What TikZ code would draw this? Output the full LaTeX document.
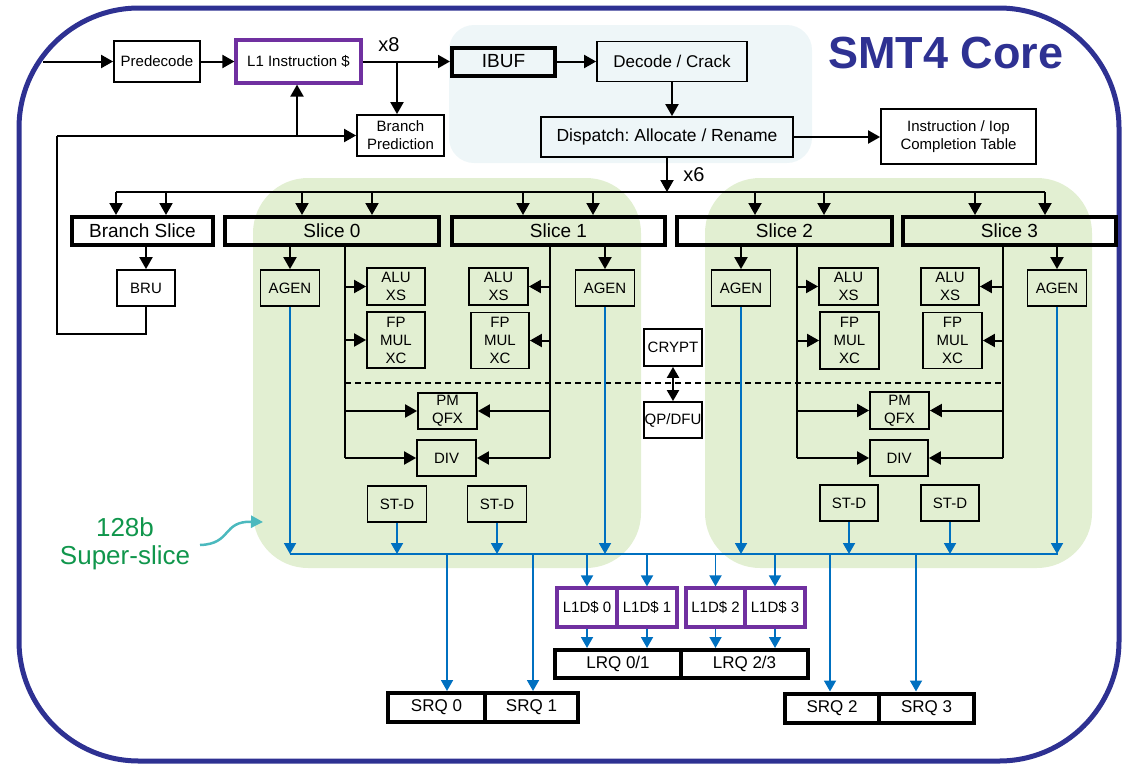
\documentclass[tikz,border=0pt]{standalone}
\usepackage{fontspec}
\setmainfont{Liberation Sans}
\usetikzlibrary{arrows.meta}
\definecolor{navy}{RGB}{46,49,146}
\definecolor{purp}{RGB}{112,48,160}
\definecolor{busblue}{RGB}{0,112,192}
\definecolor{sliceg}{RGB}{226,239,210}
\definecolor{frontb}{RGB}{238,246,248}
\definecolor{labelg}{RGB}{16,150,76}
\definecolor{curlteal}{RGB}{75,185,190}
\tikzset{
  unit/.style={draw, line width=1.8pt, inner sep=0pt, align=center,
    font=\fontsize{15}{18}\selectfont},
  heavy/.style={draw, line width=4pt, inner sep=0pt,
    font=\fontsize{19}{22}\selectfont},
  cache/.style={draw=purp, line width=3.2pt, inner sep=0pt,
    font=\fontsize{15}{18}\selectfont},
  tip/.style={-{Triangle[length=12pt,width=13pt]}},
  btip/.style={-{Triangle[length=11pt,width=12pt]}},
  flow/.style={line width=2pt, tip},
  wire/.style={line width=2pt},
  bflow/.style={busblue, line width=1.8pt, btip},
  bwire/.style={busblue, line width=1.8pt},
  mult/.style={font=\fontsize{20}{20}\selectfont, inner sep=0pt},
}
\begin{document}
\frenchspacing
\begin{tikzpicture}[x=1pt,y=-1pt]
\useasboundingbox (0,0) rectangle (1122,764);

% shaded regions: front end and the two super-slices
\fill[frontb, rounded corners=25pt] (449,25) rectangle (812,163);
\fill[sliceg, rounded corners=55pt] (253,178) rectangle (641,568);
\fill[sliceg, rounded corners=55pt] (705,178) rectangle (1092,568);

% core outline
\draw[navy, line width=5pt, rounded corners=120pt] (19,8) rectangle (1119,761);
\node[font=\bfseries\fontsize{45}{45}\selectfont, text=navy, inner sep=0pt] (title) at (946,53) {SMT4 Core};

% ---------------- front end ----------------
\node[unit, minimum width=86pt, minimum height=41pt] (pre) at (157,61.5) {Predecode};
\node[cache, minimum width=125pt, minimum height=43pt] (l1) at (298.5,61.5) {L1 Instruction \$};
\node[heavy, minimum width=103pt, minimum height=28pt] (ibuf) at (503.5,61.5) {IBUF};
\node[unit, font=\fontsize{17}{20}\selectfont, minimum width=150pt, minimum height=40pt] (dec) at (672,61.5) {Decode / Crack};
\node[unit, font=\fontsize{17.5}{20}\selectfont, minimum width=252pt, minimum height=40pt] (disp) at (667,137) {Dispatch: Allocate / Rename};
\node[unit, minimum width=155pt, minimum height=55pt] (ict) at (958.5,136.5) {Instruction / Iop\\Completion Table};
\node[unit, minimum width=87pt, minimum height=41pt] (bp) at (400.5,135.5) {Branch\\Prediction};

\coordinate (src) at (43,61.5);
\draw[flow] (src) -- (pre.west);
\draw[flow] (pre.east) -- (l1.west);
\draw[flow] (l1.east) -- (ibuf.west);
\draw[flow] (ibuf.east) -- (dec.west);
\draw[flow] (dec.south) -- (dec.south |- disp.north);
\draw[flow] (disp.east) -- (ict.west |- disp.east);
\coordinate (x8) at (397,61.5);
\draw[flow] (x8) -- (x8 |- bp.north);
\node[mult] (x8lbl) at (389,45) {x8};

% ---------------- slices ----------------
\node[heavy, minimum width=141pt, minimum height=28pt] (bs) at (142.5,231) {Branch Slice};
\node[heavy, minimum width=214pt, minimum height=28pt] (s0) at (332,231) {Slice 0};
\node[heavy, minimum width=213pt, minimum height=28pt] (s1) at (558.5,231) {Slice 1};
\node[heavy, minimum width=215pt, minimum height=28pt] (s2) at (784.5,231) {Slice 2};
\node[heavy, minimum width=213pt, minimum height=28pt] (s3) at (1009.5,231) {Slice 3};

% dispatch bus
\coordinate (kL) at (116,192);
\coordinate (kR) at (1045,192);
\draw[wire] (kL) -- (kR);
\draw[flow] (disp.south) -- (disp.south |- kL);
\node[mult] (x6lbl) at (694,175) {x6};
\foreach \x/\n in {116/bs,166/bs,302/s0,372/s0,523/s1,593/s1,755/s2,824/s2,975/s3,1045/s3} {
  \coordinate (t) at (\x,192);
  \draw[flow] (t) -- (t |- \n.north);
}

% branch unit and redirect path
\node[unit, minimum width=58pt, minimum height=36pt] (bru) at (146,288) {BRU};
\draw[flow] (bs.south -| bru.north) -- (bru.north);
\coordinate (fb1) at (57,334);
\coordinate (fb2) at (57,135.5);
\coordinate (fbj) at (297,135.5);
\draw[wire] (bru.south) -- (bru.south |- fb1) -- (fb1) -- (fb2);
\draw[flow] (fb2) -- (bp.west);
\draw[flow] (fbj) -- (fbj |- l1.south);

% ---------------- super-slice 0/1 ----------------
\node[unit, minimum width=59pt, minimum height=36pt] (ag0) at (290,288) {AGEN};
\node[unit, minimum width=58pt, minimum height=37pt] (alu0) at (396,286.5) {ALU\\XS};
\node[unit, minimum width=58pt, minimum height=56pt] (fp0) at (396,340) {FP\\MUL\\XC};
\node[unit, minimum width=59pt, minimum height=37pt] (alu1) at (498.5,286.5) {ALU\\XS};
\node[unit, minimum width=58pt, minimum height=56pt] (fp1) at (500,340.5) {FP\\MUL\\XC};
\node[unit, minimum width=59pt, minimum height=36pt] (ag1) at (605,288) {AGEN};
\node[unit, minimum width=59pt, minimum height=36pt] (pm0) at (447.5,411) {PM\\QFX};
\node[unit, minimum width=59pt, minimum height=36pt] (div0) at (446.5,458) {DIV};
\node[unit, minimum width=59pt, minimum height=36pt] (st0a) at (397,504) {ST-D};
\node[unit, minimum width=59pt, minimum height=36pt] (st0b) at (497,504) {ST-D};

% ---------------- super-slice 2/3 ----------------
\node[unit, minimum width=59pt, minimum height=36pt] (ag2) at (741,288) {AGEN};
\node[unit, minimum width=59pt, minimum height=37pt] (alu2) at (848.5,286.5) {ALU\\XS};
\node[unit, minimum width=59pt, minimum height=57pt] (fp2) at (849.5,340.5) {FP\\MUL\\XC};
\node[unit, minimum width=58pt, minimum height=37pt] (alu3) at (950,286.5) {ALU\\XS};
\node[unit, minimum width=59pt, minimum height=56pt] (fp3) at (952.5,340.5) {FP\\MUL\\XC};
\node[unit, minimum width=59pt, minimum height=36pt] (ag3) at (1057,288) {AGEN};
\node[unit, minimum width=59pt, minimum height=37pt] (pm1) at (899.5,410.5) {PM\\QFX};
\node[unit, minimum width=58pt, minimum height=36pt] (div1) at (899,458) {DIV};
\node[unit, minimum width=58pt, minimum height=36pt] (st1a) at (849,503) {ST-D};
\node[unit, minimum width=58pt, minimum height=36pt] (st1b) at (950,503) {ST-D};

% shared crypto / quad-precision units
\node[unit, minimum width=58pt, minimum height=37pt] (cr) at (673,347.5) {CRYPT};
\node[unit, minimum width=58pt, minimum height=36pt] (qp) at (673,420) {QP/DFU};

% dashed divider between the 64b halves
\coordinate (dl) at (345,383);
\coordinate (dr) at (1003,383);
\draw[wire, dash pattern=on 6pt off 4pt] (dl) -- (dr);
\draw[line width=2pt, {Triangle[length=11pt,width=12pt]}-{Triangle[length=11pt,width=12pt]}] (cr.south) -- (qp.north);

% issue rails
\foreach \s/\r/\y in {s0/r0/345, s1/r1/550, s2/r2/797, s3/r3/1003} {
  \coordinate (\r) at (\y,458);
  \draw[wire] (\s.south -| \r) -- (\r);
}
\draw[flow] (r0) -- (div0.west);
\draw[flow] (r1) -- (div0.east);
\draw[flow] (r2) -- (div1.west);
\draw[flow] (r3) -- (div1.east);
\foreach \u in {alu0,fp0,pm0} \draw[flow] (\u.west -| r0) -- (\u.west);
\foreach \u in {alu1,fp1,pm0} \draw[flow] (\u.east -| r1) -- (\u.east);
\foreach \u in {alu2,fp2,pm1} \draw[flow] (\u.west -| r2) -- (\u.west);
\foreach \u in {alu3,fp3,pm1} \draw[flow] (\u.east -| r3) -- (\u.east);
\foreach \s/\a in {s0/ag0, s1/ag1, s2/ag2, s3/ag3} \draw[flow] (\s.south -| \a.north) -- (\a.north);

% ---------------- load/store ----------------
\node[cache, minimum width=60pt, minimum height=39pt] (c0) at (587,607.5) {L1D\$ 0};
\node[cache, minimum width=60pt, minimum height=39pt] (c1) at (647,607.5) {L1D\$ 1};
\node[cache, minimum width=59pt, minimum height=39pt] (c2) at (715.5,607.5) {L1D\$ 2};
\node[cache, minimum width=60pt, minimum height=39pt] (c3) at (775,607.5) {L1D\$ 3};
\node[heavy, font=\fontsize{17}{20}\selectfont, minimum width=126pt, minimum height=28pt] (lrq0) at (618,664) {LRQ 0/1};
\node[heavy, font=\fontsize{17}{20}\selectfont, minimum width=127pt, minimum height=28pt] (lrq1) at (744.5,664) {LRQ 2/3};
\node[heavy, font=\fontsize{17}{20}\selectfont, minimum width=97pt, minimum height=29pt] (q0) at (436.5,707.5) {SRQ 0};
\node[heavy, font=\fontsize{17}{20}\selectfont, minimum width=93pt, minimum height=29pt] (q1) at (531.5,707.5) {SRQ 1};
\node[heavy, font=\fontsize{17}{20}\selectfont, minimum width=94pt, minimum height=29pt] (q2) at (832,708) {SRQ 2};
\node[heavy, font=\fontsize{17}{20}\selectfont, minimum width=95pt, minimum height=29pt] (q3) at (926.5,708) {SRQ 3};

% result bus
\coordinate (busL) at (290,554);
\coordinate (busR) at (1058,554);
\draw[bwire] (busL) -- (busR);
\foreach \u in {ag0,ag1,ag2,ag3,st0a,st0b,st1a,st1b} \draw[bflow] (\u.south) -- (\u.south |- busL);
\foreach \x/\q in {447/q0,533/q1,830/q2,916/q3} {
  \coordinate (d) at (\x,554);
  \draw[bflow] (d) -- (d |- \q.north);
}
\foreach \c in {c0,c1,c2,c3} \draw[bflow] (\c.north |- busL) -- (\c.north);
\foreach \c/\l in {c0/lrq0,c1/lrq0,c2/lrq1,c3/lrq1} \draw[bflow] (\c.south) -- (\c.south |- \l.north);

% super-slice callout
\node[text=labelg, align=center, font=\fontsize{26}{28}\selectfont, inner sep=0pt] (ssl) at (125,544) {128b\\Super-slice};
\coordinate (ssA) at (200,545);
\coordinate (ssB) at (263,522);
\draw[curlteal, line width=2.5pt, -{Triangle[length=12pt,width=12pt]}] (ssA) .. controls (232,544) and (222,521) .. (ssB);
\end{tikzpicture}
\end{document}
